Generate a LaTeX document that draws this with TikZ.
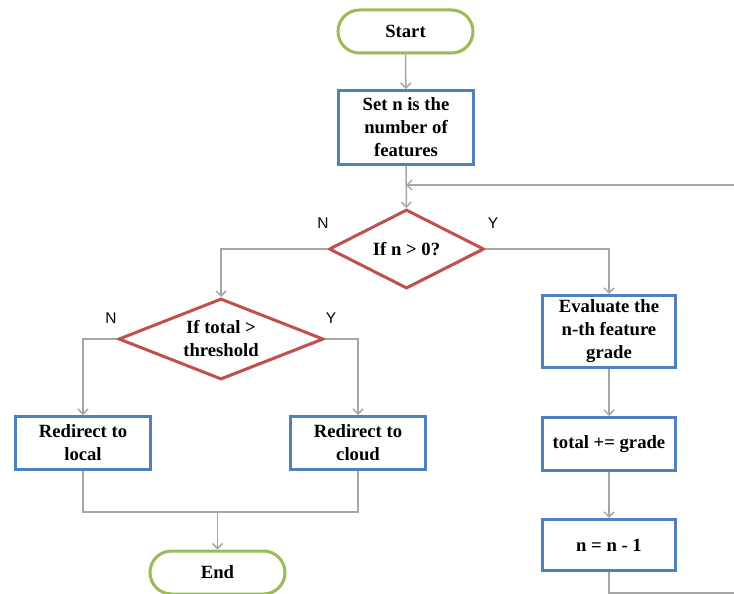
\documentclass[tikz,border=0pt]{standalone}
\usepackage{fontspec}
\setmainfont{Liberation Serif}
\newfontfamily\labelfont{Liberation Sans}
\usetikzlibrary{shapes.geometric,arrows.meta,shadows}

\definecolor{boxblue}{HTML}{4F81BD}
\definecolor{decred}{HTML}{C0504D}
\definecolor{termgreen}{HTML}{9BBB59}
\definecolor{linegray}{HTML}{A6A6A6}

\tikzset{
  every node/.style={font=\fontsize{18.67}{23}\selectfont\bfseries, align=center, inner sep=0pt},
  softshadow/.style={drop shadow={opacity=0.22, shadow xshift=1.2pt, shadow yshift=-1.6pt}},
  terminal/.style={draw=termgreen, line width=3pt, fill=white, rectangle,
    minimum width=135pt, minimum height=43pt, rounded corners=21.5pt, softshadow},
  procbox/.style={draw=boxblue, line width=3pt, fill=white, rectangle, softshadow},
  decision/.style={draw=decred, line width=3pt, fill=white, diamond, softshadow},
  conn/.style={draw=linegray, line width=1.5pt},
  flow/.style={conn, -{Straight Barb[length=5pt,width=10pt,line width=1.5pt]}},
  branch/.style={font=\labelfont\fontsize{15.5}{17}\selectfont}
}

\begin{document}
\begin{tikzpicture}[x=1pt, y=-1pt]
\useasboundingbox (0,0) rectangle (734,594);

% terminals
\node[terminal] (start) at (405.5,31.5) {Start};
\node[terminal] (finish) at (217.5,572.5) {End};

% process boxes
\node[procbox, minimum width=135pt, minimum height=74pt] (setn) at (406,127.5)
  {Set n is the\\number of\\features};
\node[procbox, minimum width=133pt, minimum height=72pt] (eval) at (609,331.5)
  {Evaluate the\\n-th feature\\grade};
\node[procbox, minimum width=133pt, minimum height=53pt] (total) at (609,444)
  {total += grade};
\node[procbox, minimum width=133pt, minimum height=51pt] (dec) at (609,545)
  {n = n - 1};
\node[procbox, minimum width=135pt, minimum height=53pt] (local) at (83,443)
  {Redirect to\\local};
\node[procbox, minimum width=135pt, minimum height=53pt] (cloud) at (358,443)
  {Redirect to\\cloud};

% decisions: the outline is sized on its own, the question sits on top
\node[decision, minimum width=155pt, minimum height=79pt] (d1) at (406.5,249) {};
\node (d1text) at (d1.center) {If n > 0?};
\node[decision, minimum width=205pt, minimum height=81pt] (d2) at (221,339) {};
\node (d2text) at (d2.center) {If total >\\threshold};

% branch labels
\node[branch] (d1n) at (323,223) {N};
\node[branch] (d1y) at (493,223) {Y};
\node[branch] (d2n) at (111,318) {N};
\node[branch] (d2y) at (331,318) {Y};

% helper points for the loop and the merge
\coordinate (loopbottom) at (745,593);
\coordinate (looptop) at (745,185);
\coordinate (merge) at (217.5,512);

% connectors
\draw[flow] (start) -- (setn);
\draw[flow] (setn) -- (d1);
\draw[flow] (d1.west) -| (d2.north);
\draw[flow] (d1.east) -| (eval.north);
\draw[flow] (eval) -- (total);
\draw[flow] (total) -- (dec);
\draw[flow] (d2.west) -| (local.north);
\draw[flow] (d2.east) -| (cloud.north);
\draw[conn] (local.south) |- (merge) -| (cloud.south);
\draw[flow] (merge) -- (finish);
\draw[flow] (dec.south) |- (loopbottom) -- (looptop) -- (setn.south |- looptop);
\end{tikzpicture}
\end{document}
